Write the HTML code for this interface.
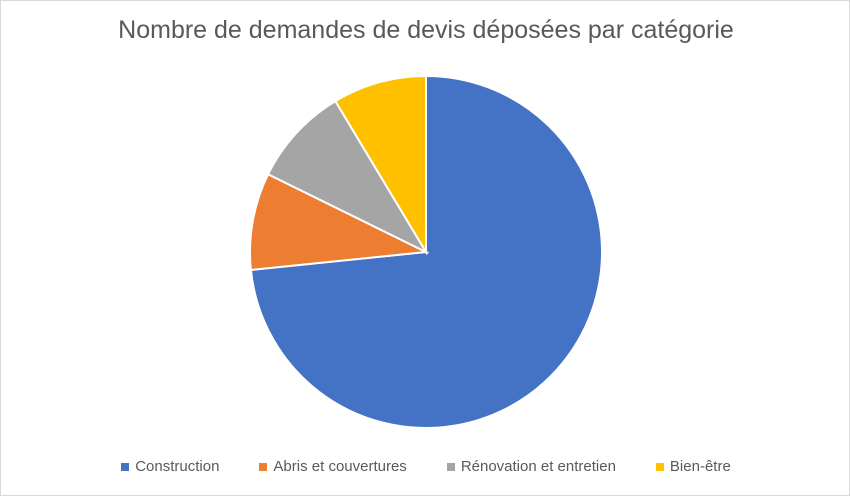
<!DOCTYPE html>
<html><head><meta charset="utf-8">
<style>
html,body{margin:0;padding:0;background:#fff;}
#chart{position:relative;width:850px;height:496px;box-sizing:border-box;border:1px solid #d9d9d9;background:#fff;font-family:"Liberation Sans",sans-serif;overflow:hidden;}
#title{position:absolute;left:0;top:15px;width:850px;text-align:center;font-size:25px;color:#595959;}
#legend{position:absolute;left:0;top:457px;width:850px;display:flex;justify-content:center;gap:0;font-size:15px;color:#595959;}
.entry{display:flex;align-items:center;margin:0 20px;}
.sw{width:8px;height:8px;margin-right:6px;}
</style></head>
<body>
<div id="chart">
<div id="title">Nombre de demandes de devis déposées par catégorie</div>
<svg id="pie" width="850" height="496" style="position:absolute;left:0;top:0"></svg>
<div id="legend"></div>
</div>
<script>
const categories = ["Construction", "Abris et couvertures", "Rénovation et entretien", "Bien-être"];
const values = [73.3, 8.9, 9.1, 8.6];
const colors = ["#4472c4", "#ed7d31", "#a5a5a5", "#ffc000"];

const cx = 425, cy = 251, r = 176;
const svg = document.getElementById('pie');
const NS = "http://www.w3.org/2000/svg";
const total = values.reduce((a,b)=>a+b,0);
let start = 0;
values.forEach((v,i)=>{
  const a0 = start/total*2*Math.PI, a1 = (start+v)/total*2*Math.PI;
  start += v;
  const x0 = cx + r*Math.sin(a0), y0 = cy - r*Math.cos(a0);
  const x1 = cx + r*Math.sin(a1), y1 = cy - r*Math.cos(a1);
  const large = (a1-a0) > Math.PI ? 1 : 0;
  const p = document.createElementNS(NS,'path');
  p.setAttribute('d',`M${cx},${cy} L${x0},${y0} A${r},${r} 0 ${large} 1 ${x1},${y1} Z`);
  p.setAttribute('fill',colors[i]);
  p.setAttribute('stroke','#fff');
  p.setAttribute('stroke-width','2');
  
  
  svg.appendChild(p);
});
const legend = document.getElementById('legend');
categories.forEach((c,i)=>{
  const e = document.createElement('div');
  e.className='entry';
  
  
  const s = document.createElement('div');
  s.className='sw'; s.style.background=colors[i];
  
  
  const t = document.createElement('span');
  t.textContent=c;
  e.appendChild(s); e.appendChild(t);
  legend.appendChild(e);
});
</script>
</body></html>
